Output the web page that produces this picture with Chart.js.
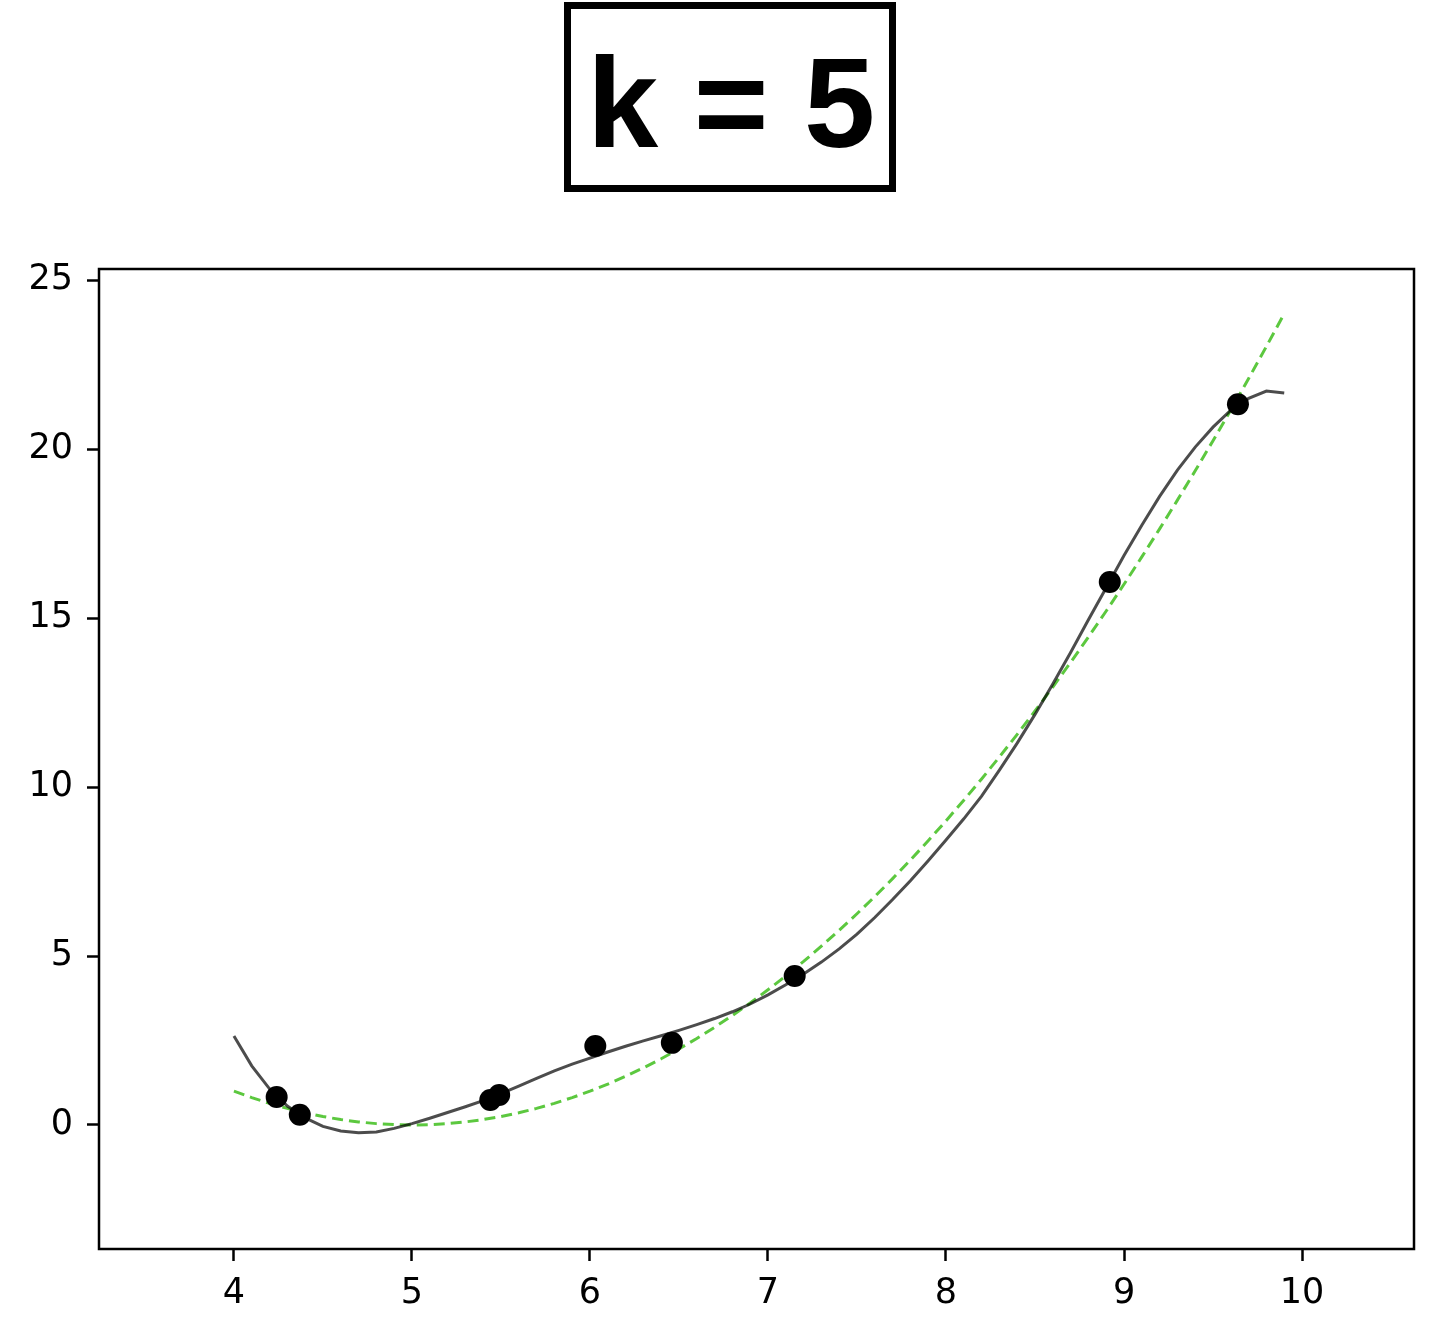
<!DOCTYPE html>
<html>
<head>
<meta charset="utf-8">
<script src="https://cdn.jsdelivr.net/npm/chart.js@4"></script>
<style>
  html, body { margin: 0; padding: 0; background: #fff; }
  #wrap { position: relative; width: 1454px; height: 1338px; }
</style>
</head>
<body>
<div id="wrap"><canvas id="c" width="1454" height="1338"></canvas></div>
<script>
// ---- data ----
const titleText = 'k = 5';
const gridX = [4.0,4.1,4.2,4.3,4.4,4.5,4.6,4.7,4.8,4.9,5.0,5.1,5.2,5.3,5.4,5.5,5.6,5.7,5.8,5.9,
               6.0,6.1,6.2,6.3,6.4,6.5,6.6,6.7,6.8,6.9,7.0,7.1,7.2,7.3,7.4,7.5,7.6,7.7,7.8,7.9,
               8.0,8.1,8.2,8.3,8.4,8.5,8.6,8.7,8.8,8.9,9.0,9.1,9.2,9.3,9.4,9.5,9.6,9.7,9.8,9.9];
const knnY = [2.63,1.75,1.07,0.56,0.21,-0.04,-0.18,-0.23,-0.21,-0.10,0.04,0.20,0.37,0.54,0.72,0.93,1.15,1.38,1.60,1.80,
              1.98,2.16,2.33,2.49,2.64,2.80,2.97,3.15,3.35,3.58,3.85,4.15,4.47,4.82,5.21,5.65,6.14,6.67,7.23,7.82,
              8.43,9.06,9.73,10.50,11.30,12.15,13.05,13.98,14.95,15.90,16.85,17.75,18.60,19.38,20.06,20.65,21.15,21.50,21.72,21.66];
const trueY = [1.00,0.81,0.64,0.49,0.36,0.25,0.16,0.09,0.04,0.01,0.00,0.01,0.04,0.09,0.16,0.25,0.36,0.49,0.64,0.81,
               1.00,1.21,1.44,1.69,1.96,2.25,2.56,2.89,3.24,3.61,4.00,4.41,4.84,5.29,5.76,6.25,6.76,7.29,7.84,8.41,
               9.00,9.61,10.24,10.89,11.56,12.25,12.96,13.69,14.44,15.21,16.00,16.81,17.64,18.49,19.36,20.25,21.16,22.09,23.04,24.01];
const sampleX = [4.24, 4.37, 5.44, 5.49, 6.03, 6.46, 7.15, 8.92, 9.64];
const sampleY = [0.83, 0.30, 0.74, 0.89, 2.34, 2.43, 4.41, 16.07, 21.33];
const xTicks = [4, 5, 6, 7, 8, 9, 10];
const yTicks = [0, 5, 10, 15, 20, 25];
const xRange = [3.242, 10.629];
const yRange = [-3.67, 25.33];

const toPts = (xs, ys) => xs.map((x, i) => ({ x: x, y: ys[i] }));

const framePlugin = {
  id: 'frame',
  afterDatasetsDraw(chart) {
    const { ctx, chartArea: a } = chart;
    ctx.save();
    ctx.strokeStyle = '#000';
    ctx.lineWidth = 2.5;
    ctx.strokeRect(a.left, a.top, a.right - a.left, a.bottom - a.top);
    ctx.restore();
  },
  afterDraw(chart) {
    const ctx = chart.ctx;
    ctx.save();
    ctx.strokeStyle = '#000';
    ctx.lineWidth = 7;
    ctx.strokeRect(567.5, 5.5, 325, 183);
    ctx.fillStyle = '#000';
    ctx.font = 'bold 128px "Liberation Sans", Arial, sans-serif';
    ctx.textAlign = 'center';
    ctx.textBaseline = 'alphabetic';
    ctx.fillText(titleText, 731, 147);
    ctx.restore();
  }
};

const tickFont = { family: '"DejaVu Sans", sans-serif', size: 35 };

new Chart(document.getElementById('c'), {
  type: 'scatter',
  data: {
    datasets: [
      {
        label: 'samples',
        data: toPts(sampleX, sampleY),
        backgroundColor: '#000',
        borderColor: '#000',
        pointRadius: 11,
        pointBorderWidth: 0,
        showLine: false,
        order: 0
      },
      {
        label: 'knn',
        data: toPts(gridX, knnY),
        showLine: true,
        borderColor: 'rgba(0,0,0,0.7)',
        borderWidth: 3,
        pointRadius: 0,
        tension: 0,
        order: 1
      },
      {
        label: 'true',
        data: toPts(gridX, trueY),
        showLine: true,
        borderColor: '#5cc83f',
        borderWidth: 3,
        borderDash: [11, 6],
        pointRadius: 0,
        tension: 0,
        order: 2
      }
    ]
  },
  options: {
    responsive: false,
    animation: false,
    devicePixelRatio: 1,
    layout: { padding: { top: 269, right: 40, left: 0, bottom: 0 } },
    plugins: { legend: { display: false }, tooltip: { enabled: false }, title: { display: false } },
    scales: {
      x: {
        type: 'linear',
        min: xRange[0], max: xRange[1],
        afterBuildTicks: (s) => { s.ticks = xTicks.map(v => ({ value: v })); },
        afterFit: (s) => { s.height = 89; },
        grid: { display: true, drawOnChartArea: false, drawTicks: true, tickLength: 12, tickColor: '#000', tickWidth: 2.5 },
        border: { display: false },
        ticks: { color: '#000', font: tickFont, padding: 12, maxRotation: 0, autoSkip: false }
      },
      y: {
        type: 'linear',
        min: yRange[0], max: yRange[1],
        afterBuildTicks: (s) => { s.ticks = yTicks.map(v => ({ value: v })); },
        afterFit: (s) => { s.width = 99; },
        grid: { display: true, drawOnChartArea: false, drawTicks: true, tickLength: 12, tickColor: '#000', tickWidth: 2.5 },
        border: { display: false },
        ticks: { color: '#000', font: tickFont, padding: 14, autoSkip: false }
      }
    }
  },
  plugins: [framePlugin]
});
</script>
</body>
</html>
